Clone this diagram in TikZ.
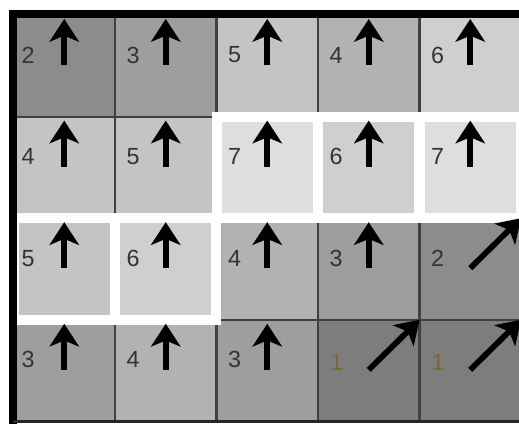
\documentclass[tikz,border=0pt]{standalone}
\usepackage{fontspec}
\setmainfont{Liberation Sans}
\usetikzlibrary{arrows.meta}
\definecolor{v1}{gray}{0.49}
\definecolor{v2}{gray}{0.55}
\definecolor{v3}{gray}{0.62}
\definecolor{v4}{gray}{0.70}
\definecolor{v5}{gray}{0.77}
\definecolor{v6}{gray}{0.81}
\definecolor{v7}{gray}{0.87}
\definecolor{edgegray}{gray}{0.25}
\definecolor{digitgray}{gray}{0.2}
\definecolor{onecolor}{RGB}{120,105,50}
\tikzset{
  cell/.style={draw=edgegray, line width=1.5pt, rectangle, minimum width=76.1pt, minimum height=76.2pt, inner sep=0pt, outer sep=0pt},
  pathcell/.style={draw=white, line width=7.5pt},
  digit/.style={text=digitgray, font=\fontsize{17.5}{20}\selectfont, inner sep=0pt},
  uparrow/.style={-{Stealth[length=17pt, width=22pt, inset=4.5pt]}, line width=4.3pt},
  frame/.style={draw=black, line width=6pt}
}
\begin{document}
\begin{tikzpicture}[x=0.75pt, y=-0.75pt]
  \clip (0,0) rectangle (519,424);
  % grid cells, row by row
  \node[cell, fill=v2] (c11) at (64.25,65.8) {};
  \node[cell, fill=v3] (c12) at (165.75,65.8) {};
  \node[cell, fill=v5] (c13) at (267.25,65.8) {};
  \node[cell, fill=v4] (c14) at (368.75,65.8) {};
  \node[cell, fill=v6] (c15) at (470.25,65.8) {};
  \node[cell, fill=v5] (c21) at (64.25,167.4) {};
  \node[cell, fill=v5] (c22) at (165.75,167.4) {};
  \node[cell, fill=v7] (c23) at (267.25,167.4) {};
  \node[cell, fill=v6] (c24) at (368.75,167.4) {};
  \node[cell, fill=v7] (c25) at (470.25,167.4) {};
  \node[cell, fill=v5] (c31) at (64.25,269) {};
  \node[cell, fill=v6] (c32) at (165.75,269) {};
  \node[cell, fill=v4] (c33) at (267.25,269) {};
  \node[cell, fill=v3] (c34) at (368.75,269) {};
  \node[cell, fill=v2] (c35) at (470.25,269) {};
  \node[cell, fill=v3] (c41) at (64.25,370.6) {};
  \node[cell, fill=v4] (c42) at (165.75,370.6) {};
  \node[cell, fill=v3] (c43) at (267.25,370.6) {};
  \node[cell, fill=v1] (c44) at (368.75,370.6) {};
  \node[cell, fill=v1] (c45) at (470.25,370.6) {};
  % highlighted path
  \draw[pathcell] (c23.north west) rectangle (c23.south east);
  \draw[pathcell] (c24.north west) rectangle (c24.south east);
  \draw[pathcell] (c25.north west) rectangle (c25.south east);
  \draw[pathcell] (c31.north west) rectangle (c31.south east);
  \draw[pathcell] (c32.north west) rectangle (c32.south east);
  % values
  \node[digit] (n11) at ([xshift=11pt, yshift=-30pt]c11.north west) {2};
  \node[digit] (n12) at ([xshift=13.5pt, yshift=-30pt]c12.north west) {3};
  \node[digit] (n13) at ([xshift=13.5pt, yshift=-30pt]c13.north west) {5};
  \node[digit] (n14) at ([xshift=13.5pt, yshift=-30pt]c14.north west) {4};
  \node[digit] (n15) at ([xshift=13.5pt, yshift=-30pt]c15.north west) {6};
  \node[digit] (n21) at ([xshift=11pt, yshift=-30pt]c21.north west) {4};
  \node[digit] (n22) at ([xshift=13.5pt, yshift=-30pt]c22.north west) {5};
  \node[digit] (n23) at ([xshift=13.5pt, yshift=-30pt]c23.north west) {7};
  \node[digit] (n24) at ([xshift=13.5pt, yshift=-30pt]c24.north west) {6};
  \node[digit] (n25) at ([xshift=13.5pt, yshift=-30pt]c25.north west) {7};
  \node[digit] (n31) at ([xshift=11pt, yshift=-30pt]c31.north west) {5};
  \node[digit] (n32) at ([xshift=13.5pt, yshift=-30pt]c32.north west) {6};
  \node[digit] (n33) at ([xshift=13.5pt, yshift=-30pt]c33.north west) {4};
  \node[digit] (n34) at ([xshift=13.5pt, yshift=-30pt]c34.north west) {3};
  \node[digit] (n35) at ([xshift=13.5pt, yshift=-30pt]c35.north west) {2};
  \node[digit] (n41) at ([xshift=11pt, yshift=-30pt]c41.north west) {3};
  \node[digit] (n42) at ([xshift=13.5pt, yshift=-30pt]c42.north west) {4};
  \node[digit] (n43) at ([xshift=13.5pt, yshift=-30pt]c43.north west) {3};
  \node[digit, text=onecolor] (n44) at ([xshift=14pt, yshift=-32pt]c44.north west) {1};
  \node[digit, text=onecolor] (n45) at ([xshift=14pt, yshift=-32pt]c45.north west) {1};
  % moves
  \draw[uparrow] ([yshift=-37.5pt]c11.north) -- ([yshift=-3pt]c11.north);
  \draw[uparrow] ([yshift=-37.5pt]c12.north) -- ([yshift=-3pt]c12.north);
  \draw[uparrow] ([yshift=-37.5pt]c13.north) -- ([yshift=-3pt]c13.north);
  \draw[uparrow] ([yshift=-37.5pt]c14.north) -- ([yshift=-3pt]c14.north);
  \draw[uparrow] ([yshift=-37.5pt]c15.north) -- ([yshift=-3pt]c15.north);
  \draw[uparrow] ([yshift=-37.5pt]c21.north) -- ([yshift=-3pt]c21.north);
  \draw[uparrow] ([yshift=-37.5pt]c22.north) -- ([yshift=-3pt]c22.north);
  \draw[uparrow] ([yshift=-37.5pt]c23.north) -- ([yshift=-3pt]c23.north);
  \draw[uparrow] ([yshift=-37.5pt]c24.north) -- ([yshift=-3pt]c24.north);
  \draw[uparrow] ([yshift=-37.5pt]c25.north) -- ([yshift=-3pt]c25.north);
  \draw[uparrow] ([yshift=-37.5pt]c31.north) -- ([yshift=-3pt]c31.north);
  \draw[uparrow] ([yshift=-37.5pt]c32.north) -- ([yshift=-3pt]c32.north);
  \draw[uparrow] ([yshift=-37.5pt]c33.north) -- ([yshift=-3pt]c33.north);
  \draw[uparrow] ([yshift=-37.5pt]c34.north) -- ([yshift=-3pt]c34.north);
  \draw[uparrow] ([yshift=-37.5pt]c35.north) -- (c35.north east);
  \draw[uparrow] ([yshift=-37.5pt]c41.north) -- ([yshift=-3pt]c41.north);
  \draw[uparrow] ([yshift=-37.5pt]c42.north) -- ([yshift=-3pt]c42.north);
  \draw[uparrow] ([yshift=-37.5pt]c43.north) -- ([yshift=-3pt]c43.north);
  \draw[uparrow] ([yshift=-37.5pt]c44.north) -- (c44.north east);
  \draw[uparrow] ([yshift=-37.5pt]c45.north) -- (c45.north east);
  % outer frame
  \draw[frame] (12.5,424) -- (12.5,14) -- (519,14);
  \draw[black!85, line width=2.25pt] (12.5,421.4) -- (519,421.4);
\end{tikzpicture}
\end{document}
